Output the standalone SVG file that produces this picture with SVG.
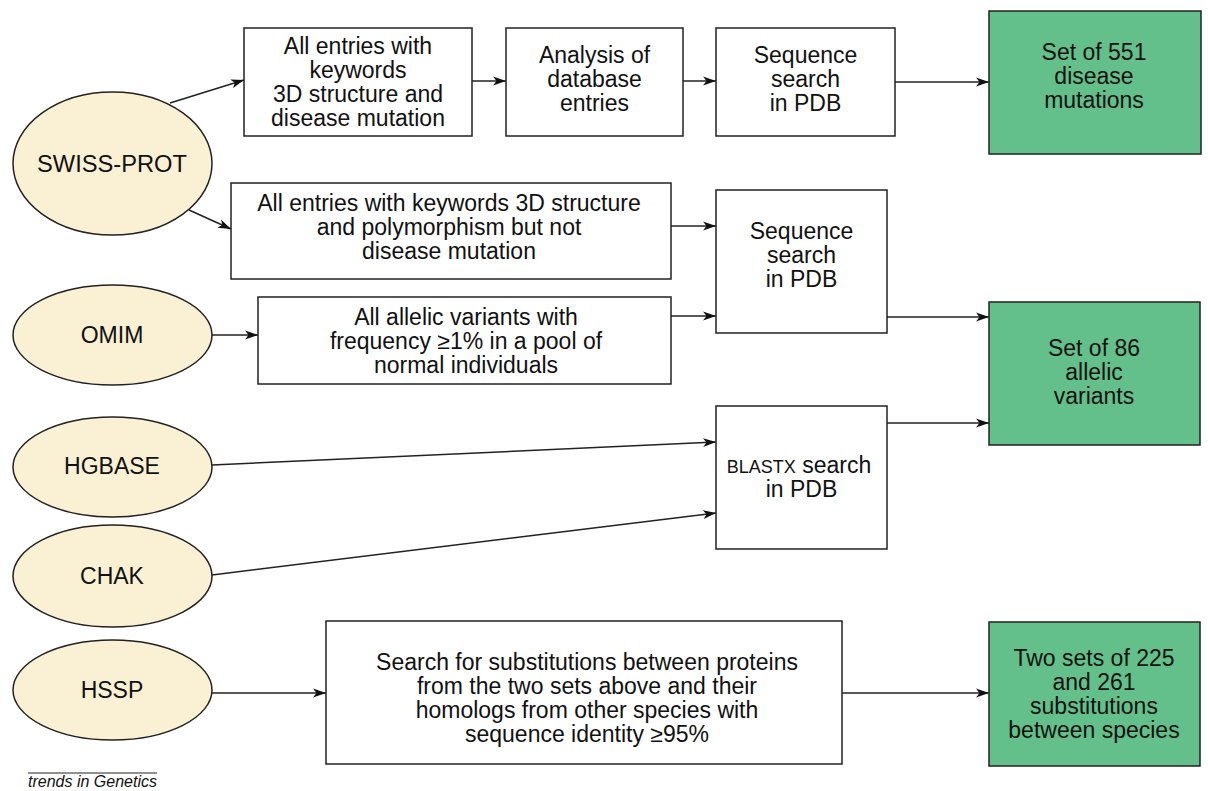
<svg xmlns="http://www.w3.org/2000/svg" width="1208" height="791" viewBox="0 0 1208 791">
<style>
text{font-family:"Liberation Sans",Arial,sans-serif;font-size:23px;fill:#111;text-anchor:middle}
.box{fill:#fff;stroke:#222;stroke-width:1.5}
.res{fill:#63C08B;stroke:#222;stroke-width:1.5}
.db{fill:#FAF0D3;stroke:#222;stroke-width:1.5}
.c{fill:none;stroke:#222;stroke-width:1.5;marker-end:url(#ah)}
.sc{font-size:18px}
</style>
<defs>
<marker id="ah" markerUnits="userSpaceOnUse" markerWidth="14" markerHeight="10" refX="13" refY="5" orient="auto">
<path d="M0,0.5 L13,5 L0,9.5 L3.5,5 z" fill="#111"/>
</marker>
</defs>
<rect width="1208" height="791" fill="#fff"/>
<g id="connectors">
<line class="c" x1="170" y1="103" x2="244" y2="80"/>
<line class="c" x1="189" y1="210" x2="231" y2="229"/>
<line class="c" x1="472" y1="81" x2="506" y2="81"/>
<line class="c" x1="683" y1="81" x2="716" y2="81"/>
<line class="c" x1="895" y1="82" x2="989" y2="82"/>
<line class="c" x1="671" y1="226" x2="716" y2="226"/>
<line class="c" x1="671" y1="316" x2="716" y2="316"/>
<line class="c" x1="212" y1="335" x2="258" y2="335"/>
<line class="c" x1="887" y1="317" x2="989" y2="317"/>
<line class="c" x1="887" y1="423" x2="989" y2="423"/>
<line class="c" x1="212" y1="465" x2="716" y2="442"/>
<line class="c" x1="212" y1="575" x2="716" y2="513"/>
<line class="c" x1="212" y1="693" x2="326" y2="693"/>
<line class="c" x1="842" y1="693" x2="989" y2="693"/>
</g>
<g id="swissprot"><ellipse class="db" cx="112.5" cy="163.5" rx="99.5" ry="71.5"/><text x="112" y="172" textLength="150" lengthAdjust="spacingAndGlyphs">SWISS-PROT</text></g>
<g id="omim"><ellipse class="db" cx="112.5" cy="335" rx="99.5" ry="50"/><text x="112" y="343">OMIM</text></g>
<g id="hgbase"><ellipse class="db" cx="112.5" cy="467" rx="99.5" ry="50"/><text x="112" y="474">HGBASE</text></g>
<g id="chak"><ellipse class="db" cx="112.5" cy="576" rx="99.5" ry="51"/><text x="112" y="584">CHAK</text></g>
<g id="hssp"><ellipse class="db" cx="112.5" cy="690" rx="99.5" ry="50"/><text x="112" y="698">HSSP</text></g>
<g id="entries-disease"><rect class="box" x="244" y="28" width="228" height="108"/>
<text><tspan x="358" y="54">All entries with</tspan><tspan x="358" y="78">keywords</tspan><tspan x="358" y="102">3D structure and</tspan><tspan x="358" y="126">disease mutation</tspan></text></g>
<g id="analysis"><rect class="box" x="506" y="28" width="177" height="108"/>
<text><tspan x="594.5" y="63">Analysis of</tspan><tspan x="594.5" y="87">database</tspan><tspan x="594.5" y="111">entries</tspan></text></g>
<g id="seqsearch1"><rect class="box" x="716" y="28" width="179" height="108"/>
<text><tspan x="805.5" y="63">Sequence</tspan><tspan x="805.5" y="87">search</tspan><tspan x="805.5" y="111">in PDB</tspan></text></g>
<g id="set551"><rect class="res" x="989" y="11" width="212" height="143"/>
<text><tspan x="1094" y="60">Set of 551</tspan><tspan x="1094" y="84">disease</tspan><tspan x="1094" y="108">mutations</tspan></text></g>
<g id="entries-poly"><rect class="box" x="231" y="183" width="440" height="96"/>
<text><tspan x="449" y="211">All entries with keywords 3D structure</tspan><tspan x="449" y="235">and polymorphism but not</tspan><tspan x="449" y="259">disease mutation</tspan></text></g>
<g id="seqsearch2"><rect class="box" x="716" y="190" width="171" height="143"/>
<text><tspan x="801.5" y="239">Sequence</tspan><tspan x="801.5" y="263">search</tspan><tspan x="801.5" y="287">in PDB</tspan></text></g>
<g id="allelic"><rect class="box" x="258" y="297" width="413" height="87"/>
<text><tspan x="466" y="325">All allelic variants with</tspan><tspan x="466" y="349">frequency ≥1% in a pool of</tspan><tspan x="466" y="373">normal individuals</tspan></text></g>
<g id="set86"><rect class="res" x="989" y="302" width="211" height="143"/>
<text><tspan x="1094" y="356">Set of 86</tspan><tspan x="1094" y="380">allelic</tspan><tspan x="1094" y="404">variants</tspan></text></g>
<g id="blastx"><rect class="box" x="716" y="406" width="171" height="143"/>
<text><tspan x="799" y="473"><tspan class="sc">BLASTX</tspan> search</tspan><tspan x="801.5" y="497">in PDB</tspan></text></g>
<g id="substitutions"><rect class="box" x="326" y="621" width="516" height="143"/>
<text><tspan x="587" y="670">Search for substitutions between proteins</tspan><tspan x="587" y="694">from the two sets above and their</tspan><tspan x="587" y="718">homologs from other species with</tspan><tspan x="587" y="742">sequence identity ≥95%</tspan></text></g>
<g id="set225"><rect class="res" x="989" y="622" width="211" height="144"/>
<text><tspan x="1094" y="666">Two sets of 225</tspan><tspan x="1094" y="690">and 261</tspan><tspan x="1094" y="714">substitutions</tspan><tspan x="1094" y="738">between species</tspan></text></g>
<g id="credit"><line x1="28" y1="773" x2="157" y2="773" stroke="#222" stroke-width="1"/>
<text x="28" y="787" style="font-size:16px;font-style:italic;text-anchor:start">trends in Genetics</text></g>
</svg>
